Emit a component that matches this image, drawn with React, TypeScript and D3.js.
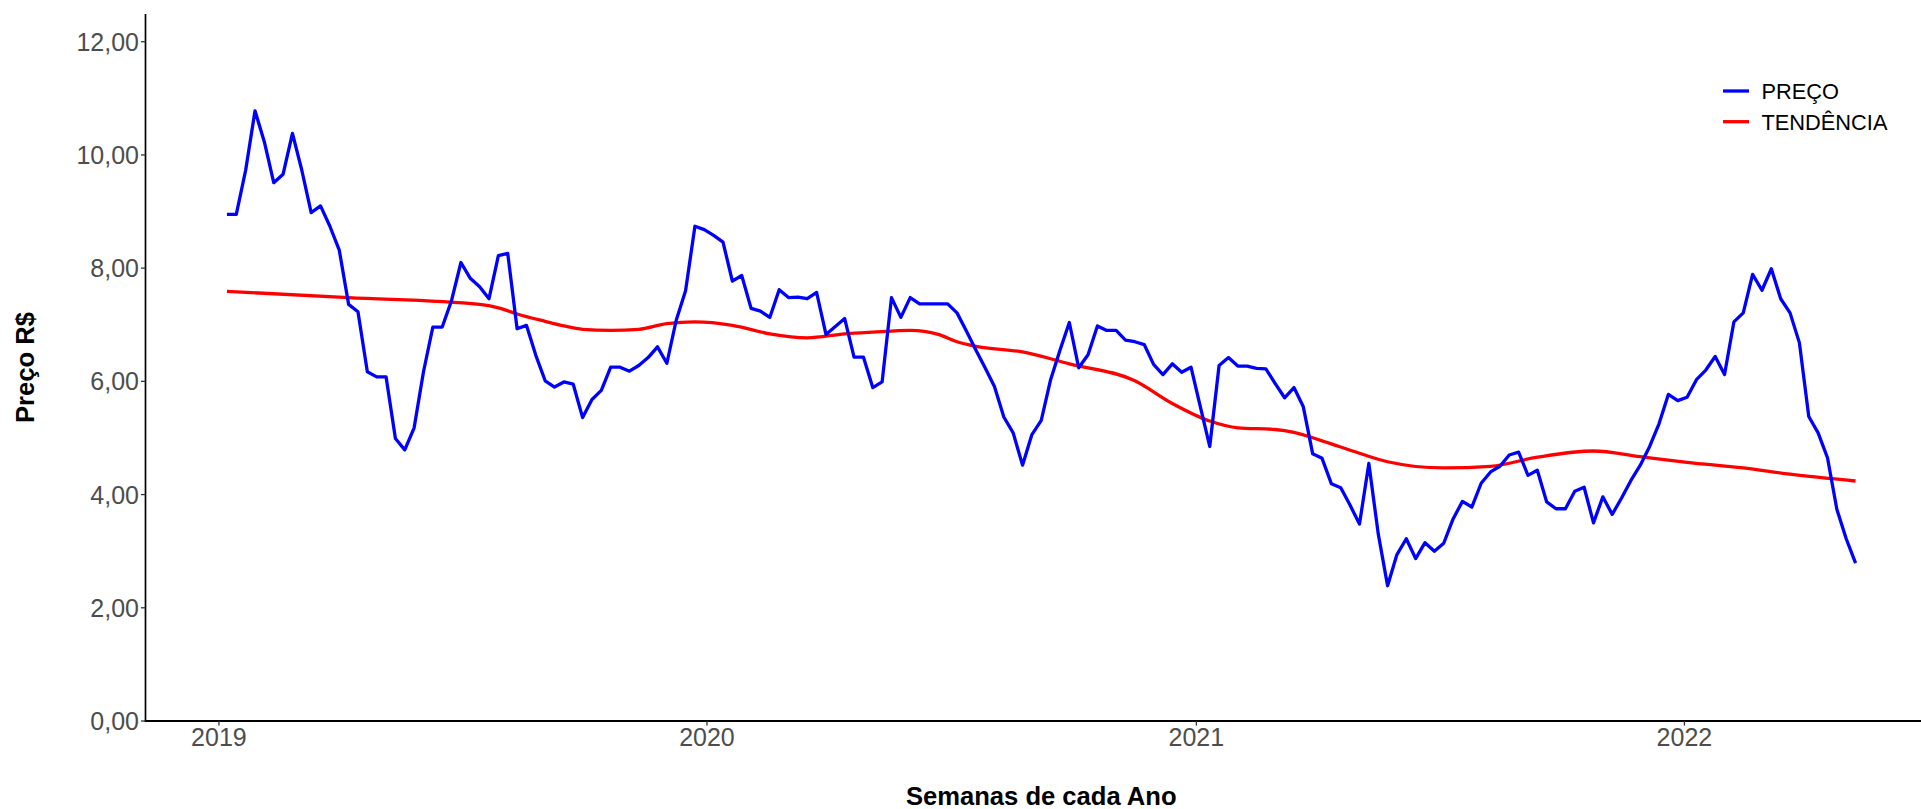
import React, { useEffect } from "react";
import * as d3 from "d3";

// ---- data ----
const START_UTC = Date.UTC(2019, 0, 7); // first weekly observation
const WEEK_MS = 7 * 24 * 3600 * 1000;

const PRICE = [
  8.95, 8.95, 9.73, 10.78, 10.23, 9.51, 9.66, 10.38, 9.73, 8.98,
  9.10, 8.74, 8.32, 7.36, 7.23, 6.17, 6.08, 6.08, 4.99, 4.79,
  5.18, 6.17, 6.96, 6.96, 7.43, 8.10, 7.82, 7.67, 7.46, 8.22,
  8.26, 6.93, 6.99, 6.46, 6.01, 5.90, 5.99, 5.95, 5.36, 5.68,
  5.84, 6.25, 6.25, 6.18, 6.28, 6.42, 6.61, 6.32, 7.08, 7.60,
  8.74, 8.68, 8.58, 8.46, 7.77, 7.87, 7.29, 7.24, 7.13, 7.62,
  7.48, 7.49, 7.46, 7.57, 6.83, 6.97, 7.11, 6.43, 6.43, 5.89,
  5.99, 7.48, 7.13, 7.48, 7.37, 7.37, 7.37, 7.37, 7.21, 6.89,
  6.56, 6.24, 5.91, 5.37, 5.09, 4.52, 5.06, 5.31, 6.03, 6.55,
  7.04, 6.24, 6.47, 6.98, 6.90, 6.90, 6.73, 6.70, 6.65, 6.30,
  6.12, 6.31, 6.16, 6.25, 5.55, 4.85, 6.28, 6.42, 6.27, 6.27,
  6.23, 6.22, 5.96, 5.71, 5.89, 5.55, 4.72, 4.64, 4.19, 4.12,
  3.81, 3.48, 4.55, 3.31, 2.39, 2.94, 3.22, 2.87, 3.15, 3.00,
  3.14, 3.57, 3.88, 3.78, 4.20, 4.40, 4.50, 4.70, 4.75, 4.34,
  4.43, 3.87, 3.75, 3.75, 4.06, 4.13, 3.50, 3.96, 3.65, 3.94,
  4.25, 4.52, 4.85, 5.25, 5.77, 5.66, 5.72, 6.03, 6.20, 6.44,
  6.12, 7.05, 7.21, 7.89, 7.61, 7.99, 7.46, 7.21, 6.68, 5.38,
  5.09, 4.65, 3.74, 3.22, 2.79,
];

// smoothed trend, read at selected weeks
const TREND_WEEK = [
  0, 13, 27, 29, 31, 34, 36, 38, 41, 44, 47, 50, 54, 58, 62, 66, 69, 73, 76, 78,
  80, 85, 90, 97, 101, 105, 108, 112, 114, 117, 121, 124, 130, 135, 140, 146, 151,
  156, 162, 167, 174,
];
const TREND_VALUE = [
  7.59, 7.48, 7.36, 7.30, 7.19, 7.06, 6.98, 6.92, 6.90, 6.92, 7.02, 7.05, 6.99,
  6.84, 6.77, 6.84, 6.87, 6.90, 6.83, 6.70, 6.62, 6.52, 6.31, 6.01, 5.61, 5.30,
  5.18, 5.15, 5.10, 4.95, 4.73, 4.58, 4.47, 4.50, 4.66, 4.77, 4.67, 4.57, 4.47,
  4.36, 4.24,
];

const Y_TICKS = [0, 2, 4, 6, 8, 10, 12];
const X_TICK_YEARS = [2019, 2020, 2021, 2022];
const SERIES_NAMES = ["PREÇO", "TENDÊNCIA"];
const SERIES_COLORS = ["#0000FF", "#FF0000"];

const W = 1921;
const H = 809;
const FONT = "Liberation Sans, Arial, Helvetica, sans-serif";

export default function App() {
  useEffect(() => {
    document.body.style.margin = "0";
    document.body.style.overflow = "hidden";
  }, []);

  const dates = PRICE.map((_, i) => new Date(START_UTC + i * WEEK_MS));
  const t0 = dates[0].getTime();
  const t1 = dates[dates.length - 1].getTime();
  const pad = (t1 - t0) * 0.05;

  const left = 145.5;
  const right = 1937;
  const top = 14;
  const bottom = 721;

  const x = d3.scaleUtc().domain([new Date(t0 - pad), new Date(t1 + pad)]).range([left, right]);
  const y = d3.scaleLinear().domain([0, 12.49]).range([bottom, top]);

  const priceLine = d3
    .line<number>()
    .x((_, i) => x(dates[i]))
    .y((d) => y(d))
    .curve(d3.curveLinear);

  const trendPts = TREND_WEEK.map((w, i) => [new Date(START_UTC + w * WEEK_MS), TREND_VALUE[i]] as [Date, number]);
  const trendLine = d3
    .line<[Date, number]>()
    .x((d) => x(d[0]))
    .y((d) => y(d[1]))
    .curve(d3.curveMonotoneX);

  const fmt = (v: number) => v.toFixed(2).replace(".", ",");

  return (
    <svg width={W} height={H} style={{ position: "absolute", left: 0, top: 0, background: "#fff" }} fontFamily={FONT}>
      <rect x={0} y={0} width={W} height={H} fill="#fff" />
      {/* lines */}
      <path d={trendLine(trendPts) || ""} fill="none" stroke={SERIES_COLORS[1]} strokeWidth={3.3} strokeLinejoin="round" />
      <path d={priceLine(PRICE) || ""} fill="none" stroke={SERIES_COLORS[0]} strokeWidth={3.3} strokeLinejoin="round" />

      {/* axes */}
      <line x1={left} x2={left} y1={top} y2={bottom + 0.8} stroke="#000" strokeWidth={1.7} />
      <line x1={left - 0.8} x2={W} y1={bottom} y2={bottom} stroke="#000" strokeWidth={1.9} />

      {Y_TICKS.map((v) => (
        <g key={"y" + v}>
          <line x1={left - 4.5} x2={left} y1={y(v)} y2={y(v)} stroke="#333" strokeWidth={1.3} />
          <text x={left - 6.5} y={y(v)} dy="0.36em" textAnchor="end" fontSize={25} fill="#4D4D4D">
            {fmt(v)}
          </text>
        </g>
      ))}
      {X_TICK_YEARS.map((yr) => {
        const px = x(new Date(Date.UTC(yr, 0, 1)));
        return (
          <g key={"x" + yr}>
            <line x1={px} x2={px} y1={bottom} y2={bottom + 4.5} stroke="#333" strokeWidth={1.3} />
            <text x={px} y={745.5} textAnchor="middle" fontSize={25} fill="#4D4D4D">
              {String(yr)}
            </text>
          </g>
        );
      })}

      {/* axis titles */}
      <text x={(left + right) / 2} y={805} textAnchor="middle" fontSize={25.6} fontWeight="bold" fill="#000">
        Semanas de cada Ano
      </text>
      <text
        transform={`translate(${33.5},${(top + bottom) / 2}) rotate(-90)`}
        textAnchor="middle"
        fontSize={25.6}
        fontWeight="bold"
        fill="#000"
      >
        Preço R$
      </text>

      {/* legend */}
      {SERIES_NAMES.map((name, i) => {
        const cy = 91 + i * 30.7;
        return (
          <g key={name}>
            <line x1={1723} x2={1749} y1={cy} y2={cy} stroke={SERIES_COLORS[i]} strokeWidth={3.3} />
            <text x={1761.5} y={cy} dy="0.36em" fontSize={21.8} fill="#000">
              {name}
            </text>
          </g>
        );
      })}
    </svg>
  );
}
